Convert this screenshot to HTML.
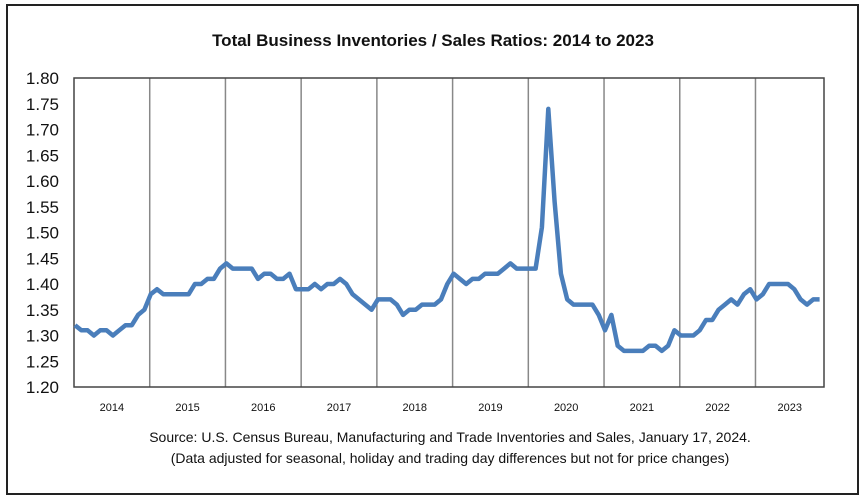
<!DOCTYPE html>
<html><head><meta charset="utf-8"><style>
body{margin:0;background:#fff;}
svg{display:block;font-family:"Liberation Sans",sans-serif;}
</style></head><body>
<svg width="867" height="501" viewBox="0 0 867 501">
<rect x="7" y="5" width="851" height="489" fill="#fff" stroke="#222" stroke-width="2"/>
<text x="433" y="46" text-anchor="middle" font-size="17" font-weight="bold" fill="#111">Total Business Inventories / Sales Ratios: 2014 to 2023</text>
<g id="grid"></g>
<rect x="74" y="78" width="750" height="309" fill="none" stroke="#444" stroke-width="1.5"/>
<g id="yaxis"></g>
<g id="xaxis"></g>
<path id="line" fill="none" stroke="#4a7ebb" stroke-width="4.5" stroke-linejoin="round"/>
<text x="450" y="442" text-anchor="middle" font-size="14" fill="#111">Source: U.S. Census Bureau, Manufacturing and Trade Inventories and Sales, January 17, 2024.</text>
<text x="450" y="463" text-anchor="middle" font-size="14" fill="#111">(Data adjusted for seasonal, holiday and trading day differences but not for price changes)</text>
</svg>
<script>
const years=["2014","2015","2016","2017","2018","2019","2020","2021","2022","2023"];
const yTicks=[1.20,1.25,1.30,1.35,1.40,1.45,1.50,1.55,1.60,1.65,1.70,1.75,1.80];
const ratios=[1.32,1.31,1.31,1.30,1.31,1.31,1.30,1.31,1.32,1.32,1.34,1.35,
1.38,1.39,1.38,1.38,1.38,1.38,1.38,1.40,1.40,1.41,1.41,1.43,
1.44,1.43,1.43,1.43,1.43,1.41,1.42,1.42,1.41,1.41,1.42,1.39,
1.39,1.39,1.40,1.39,1.40,1.40,1.41,1.40,1.38,1.37,1.36,1.35,
1.37,1.37,1.37,1.36,1.34,1.35,1.35,1.36,1.36,1.36,1.37,1.40,
1.42,1.41,1.40,1.41,1.41,1.42,1.42,1.42,1.43,1.44,1.43,1.43,
1.43,1.43,1.51,1.74,1.56,1.42,1.37,1.36,1.36,1.36,1.36,1.34,
1.31,1.34,1.28,1.27,1.27,1.27,1.27,1.28,1.28,1.27,1.28,1.31,
1.30,1.30,1.30,1.31,1.33,1.33,1.35,1.36,1.37,1.36,1.38,1.39,
1.37,1.38,1.40,1.40,1.40,1.40,1.39,1.37,1.36,1.37,1.37];
const NS="http://www.w3.org/2000/svg";
const L=74,R=824,T=78,B=387,step=6.31;
const x=i=>L+1+i*step;
const y=v=>B-(v-1.20)/(0.60)*(B-T);
const grid=document.getElementById('grid'),ya=document.getElementById('yaxis'),xa=document.getElementById('xaxis');
years.forEach((yr,k)=>{
  const gx=L+k*12*step, nx=Math.min(R,L+(k+1)*12*step);
  if(k>0){const ln=document.createElementNS(NS,'line');
    ln.setAttribute('x1',gx);ln.setAttribute('x2',gx);ln.setAttribute('y1',T);ln.setAttribute('y2',B);
    ln.setAttribute('stroke','#888');ln.setAttribute('stroke-width','1.5');
    
    
    grid.appendChild(ln);}
  const t=document.createElementNS(NS,'text');
  t.setAttribute('x',(gx+nx)/2);t.setAttribute('y',411);t.setAttribute('text-anchor','middle');
  t.setAttribute('font-size','11');t.setAttribute('fill','#111');t.textContent=yr;
  
  
  xa.appendChild(t);
});
yTicks.forEach(v=>{
  const t=document.createElementNS(NS,'text');
  t.setAttribute('x',59);t.setAttribute('y',y(v)+6);t.setAttribute('text-anchor','end');
  t.setAttribute('font-size','17');t.setAttribute('fill','#111');t.textContent=v.toFixed(2);
  
  
  ya.appendChild(t);
});
document.getElementById('line').setAttribute('d',ratios.map((v,i)=>(i?'L':'M')+x(i).toFixed(1)+','+y(v).toFixed(1)).join(''));
</script>
</body></html>
